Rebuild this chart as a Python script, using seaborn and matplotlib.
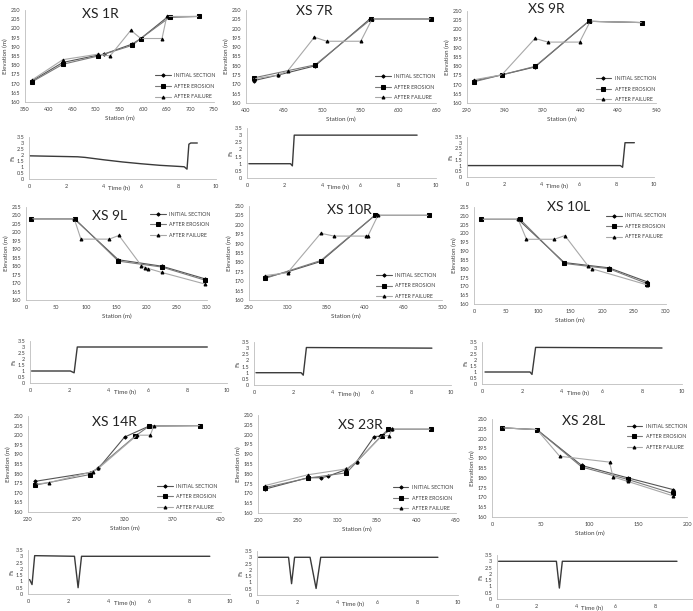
import matplotlib
matplotlib.use("Agg")
import matplotlib.pyplot as plt
from matplotlib.ticker import MultipleLocator, FormatStrFormatter
import seaborn as sns

# ---- cross sections: station (m) / elevation (m) ----
st_1r_init = [365, 430, 505, 517, 577, 595, 652, 718]
el_1r_init = [171.5, 181.5, 185.5, 186, 191.5, 194.5, 206.3, 206.5]
st_1r_eros = [365, 430, 505, 577, 595, 656, 718]
el_1r_eros = [171, 180.5, 185, 190.8, 194.5, 206, 206.5]
st_1r_fail = [365, 430, 505, 530, 574, 595, 640, 650, 718]
el_1r_fail = [172, 183, 186, 185, 199, 194.5, 194.5, 206.5, 206.5]

st_7r_init = [410, 442, 491, 563, 644]
el_7r_init = [172, 175, 180, 205.2, 205.2]
st_7r_eros = [410, 491, 565, 644]
el_7r_eros = [173.5, 180.5, 205.2, 205.2]
st_7r_fail = [410, 442, 455, 490, 506, 551, 566, 644]
el_7r_fail = [173, 175, 177.3, 195.4, 193.2, 193.2, 205.2, 205.2]

st_9r_init = [299, 336, 380, 451, 522]
el_9r_init = [172, 175.3, 179.6, 204.4, 203.7]
st_9r_eros = [299, 336, 380, 451, 522]
el_9r_eros = [171.5, 175.3, 179.9, 204.4, 203.7]
st_9r_fail = [299, 336, 380, 397, 439, 453, 522]
el_9r_fail = [172.6, 175.3, 195.1, 193.1, 193.1, 204.4, 203.7]

st_9l_init = [9, 80, 153, 225, 297]
el_9l_init = [208, 208, 183.8, 180, 172.5]
st_9l_eros = [9, 81, 153, 225, 297]
el_9l_eros = [208, 208, 183, 179.5, 171.7]
st_9l_fail = [9, 80, 91, 138, 154, 191, 198, 203, 225, 297]
el_9l_fail = [208, 208, 196, 196, 198.2, 180.4, 179.2, 178.6, 176.3, 169.4]

st_10r_init = [271, 300, 343, 413, 483]
el_10r_init = [172, 175, 180.5, 205, 205]
st_10r_eros = [271, 343, 413, 483]
el_10r_eros = [171.5, 181, 205, 205]
st_10r_fail = [271, 300, 343, 360, 402, 404, 417, 483]
el_10r_fail = [173, 174.5, 195.5, 194, 194, 194, 205, 205]

st_10l_init = [11.5, 69, 141, 211, 271]
el_10l_init = [208, 208, 183.5, 180.5, 172.5]
st_10l_eros = [11.5, 72, 141, 211, 271]
el_10l_eros = [208, 208, 183, 180, 171.5]
st_10l_fail = [11.5, 69, 82, 125.5, 142, 178.6, 184, 271]
el_10l_fail = [208, 208, 196.7, 196.7, 198.8, 181.4, 180, 170.8]

st_14r_init = [227.7, 284, 293, 320, 345.7, 398.5]
el_14r_init = [176, 180.5, 182.7, 199, 204.8, 205]
st_14r_eros = [227.7, 284, 331, 345.7, 398.5]
el_14r_eros = [174, 179.5, 199.5, 204.8, 205]
st_14r_fail = [227.7, 241.8, 287, 293, 333, 346.8, 350.3, 398.5]
el_14r_fail = [174.5, 175.3, 181, 182.7, 200, 200, 204.8, 205]

st_23r_init = [209, 263, 280, 288.5, 311.7, 324.4, 346.7, 354, 369, 418.4]
el_23r_init = [172.2, 178, 178, 178.8, 182.2, 186.1, 199, 199.2, 202.7, 202.7]
st_23r_eros = [209, 263, 311.7, 356, 364.4, 418.4]
el_23r_eros = [173, 177.8, 180.5, 199.5, 202.7, 202.7]
st_23r_fail = [209, 263, 311.7, 324.4, 356, 365.6, 369, 418.4]
el_23r_fail = [174, 179.5, 182.5, 186.1, 199.2, 199.5, 202.7, 202.7]

st_28l_init = [10, 46, 92, 139, 185.6]
el_28l_init = [205.5, 204.6, 186.3, 180, 174]
st_28l_eros = [10, 46, 92, 139, 185.6]
el_28l_eros = [205.5, 204.6, 185.5, 179.2, 172]
st_28l_fail = [10, 46, 69.4, 120.6, 124, 139, 185.6]
el_28l_fail = [205.5, 204.6, 191, 188, 180.5, 178.2, 170.8]

# ---- factor of safety vs time ----
t_1r = [0.05, 1, 2, 2.6, 3, 4, 5, 6, 7, 8, 8.3, 8.45, 8.55, 8.65, 9.0]
fs_1r = [1.93, 1.9, 1.87, 1.85, 1.8, 1.6, 1.42, 1.27, 1.14, 1.05, 1.02, 0.82, 2.9, 3.0, 3.0]
t_7r = [0.1, 2.3, 2.4, 2.5, 9.0]
fs_7r = [1.0, 1.0, 0.85, 3.0, 3.0]
t_9r = [0.05, 8.2, 8.32, 8.45, 8.95]
fs_9r = [1.0, 1.0, 0.85, 3.0, 3.0]
t_9l = [0.08, 2.05, 2.24, 2.4, 9.0]
fs_9l = [1.0, 1.0, 0.85, 3.0, 3.0]
t_10r = [0.1, 2.39, 2.5, 2.66, 9.03]
fs_10r = [1.0, 1.0, 0.8, 3.05, 3.0]
t_10l = [0.15, 2.4, 2.5, 2.68, 9.0]
fs_10l = [1.0, 1.0, 0.8, 3.05, 3.0]
t_14r = [0.08, 0.2, 0.33, 2.3, 2.48, 2.65, 9.0]
fs_14r = [1.15, 0.75, 3.05, 3.0, 0.5, 3.0, 3.0]
t_23r = [0.08, 1.57, 1.72, 1.87, 2.64, 2.94, 3.17, 9.0]
fs_23r = [3.0, 3.0, 0.9, 3.0, 3.0, 0.52, 3.0, 3.0]
t_28l = [0.08, 3.0, 3.15, 3.3, 9.09]
fs_28l = [3.0, 3.0, 0.87, 3.0, 3.0]

labels = ["INITIAL SECTION", "AFTER EROSION", "AFTER FAILURE"]
time_ticks = [0, 2, 4, 6, 8, 10]
time_ticks_cut = [0, 2, 4, 6, 8]

W, H = 693, 611


def px_axes(fig, x0, x1, y0, y1):
    return fig.add_axes([x0 / W, 1 - y1 / H, (x1 - x0) / W, (y1 - y0) / H])


def style(ax):
    sns.despine(ax=ax)
    for s in ["left", "bottom"]:
        ax.spines[s].set_color("#bdbdbd")
        ax.spines[s].set_linewidth(0.6)
    ax.tick_params(labelsize=4, colors="#404040", length=2, width=0.5, pad=1.5)
    ax.tick_params(color="#bdbdbd")


def draw_xs(ax, init, eros, fail, xlim, ylim, title, tpos, legpos):
    styles = [("#555555", "D", 1.7), ("#7a7a7a", "s", 2.3), ("#a8a8a8", "^", 2.1)]
    for (st, el), (c, m, ms), lab in zip([init, eros, fail], styles, labels):
        sns.lineplot(x=st, y=el, sort=False, estimator=None, color=c, marker=m,
                     markersize=ms, markerfacecolor="black", markeredgecolor="black",
                     linewidth=0.8, label=lab, ax=ax)
    ax.set_xlim(*xlim)
    ax.set_ylim(*ylim)
    ax.yaxis.set_major_locator(MultipleLocator(5))
    ax.set_xticks(range(xlim[0], xlim[1] + 1, 50))
    ax.set_xlabel("Station (m)", fontsize=4.5, color="#404040", labelpad=3)
    ax.set_ylabel("Elevation (m)", fontsize=4.5, color="#404040", labelpad=2)
    style(ax)
    ax.text(tpos[0], tpos[1], title, transform=ax.transAxes, ha="center", va="center",
            fontsize=10, color="#222222")
    leg = ax.legend(loc="center left", bbox_to_anchor=legpos, frameon=False, fontsize=3.8,
                    handlelength=3.0, handletextpad=0.6, labelspacing=1.05,
                    borderpad=0, borderaxespad=0)
    for txt in leg.get_texts():
        txt.set_color("#404040")


def draw_fs(ax, t, fs, ticks):
    sns.lineplot(x=t, y=fs, sort=False, estimator=None, color="#3a3a3a", linewidth=1.0, ax=ax)
    ax.set_xlim(0, 10)
    ax.set_ylim(0, 3.5)
    ax.set_xticks(ticks)
    ax.yaxis.set_major_locator(MultipleLocator(0.5))
    ax.yaxis.set_major_formatter(FormatStrFormatter("%g"))
    ax.set_ylabel("Fs", fontsize=4.5, color="#404040", labelpad=1)
    ax.set_xlabel("")
    style(ax)
    ax.annotate("Time (h)", xy=(0.48, 0), xycoords="axes fraction", xytext=(0, -6.5),
                textcoords="offset points", ha="center", va="center", fontsize=4.5,
                color="#404040")


sns.set_theme(style="white")
plt.rcParams["font.family"] = ["Lato", "DejaVu Sans"]

fig = plt.figure(figsize=(W / 100, H / 100), dpi=100)

panels = [
    ("XS 1R", (25, 214, 10, 102), (29, 216, 137, 179), (350, 750), (160, 210),
     (st_1r_init, el_1r_init), (st_1r_eros, el_1r_eros), (st_1r_fail, el_1r_fail),
     (t_1r, fs_1r, time_ticks), (0.40, 0.96), (0.69, 0.17)),
    ("XS 7R", (246, 436, 10, 103), (247, 436, 128, 178), (400, 650), (160, 210),
     (st_7r_init, el_7r_init), (st_7r_eros, el_7r_eros), (st_7r_fail, el_7r_fail),
     (t_7r, fs_7r, time_ticks), (0.36, 0.99), (0.68, 0.17)),
    ("XS 9R", (467, 656, 11, 103), (467, 654, 137, 177), (290, 540), (160, 210),
     (st_9r_init, el_9r_init), (st_9r_eros, el_9r_eros), (st_9r_fail, el_9r_fail),
     (t_9r, fs_9r, time_ticks), (0.42, 1.02), (0.68, 0.15)),
    ("XS 9L", (26, 207, 207, 300), (30, 227, 341, 383), (0, 300), (160, 215),
     (st_9l_init, el_9l_init), (st_9l_eros, el_9l_eros), (st_9l_fail, el_9l_fail),
     (t_9l, fs_9l, time_ticks), (0.46, 0.90), (0.685, 0.81)),
    ("XS 10R", (249, 442, 206, 300), (254, 451, 342, 385), (250, 500), (160, 210),
     (st_10r_init, el_10r_init), (st_10r_eros, el_10r_eros), (st_10r_fail, el_10r_fail),
     (t_10r, fs_10r, time_ticks), (0.52, 0.96), (0.66, 0.15)),
    ("XS 10L", (474, 666, 207, 304), (482, 682, 342, 384), (0, 300), (160, 215),
     (st_10l_init, el_10l_init), (st_10l_eros, el_10l_eros), (st_10l_fail, el_10l_fail),
     (t_10l, fs_10l, time_ticks), (0.49, 1.0), (0.69, 0.80)),
    ("XS 14R", (28, 221, 416, 512), (28, 230, 550, 594), (220, 420), (160, 210),
     (st_14r_init, el_14r_init), (st_14r_eros, el_14r_eros), (st_14r_fail, el_14r_fail),
     (t_14r, fs_14r, time_ticks), (0.45, 0.94), (0.67, 0.16)),
    ("XS 23R", (258, 456, 415, 513), (257, 458, 551, 595), (200, 450), (160, 210),
     (st_23r_init, el_23r_init), (st_23r_eros, el_23r_eros), (st_23r_fail, el_23r_fail),
     (t_23r, fs_23r, time_ticks), (0.515, 0.90), (0.68, 0.15)),
    ("XS 28L", (492, 687, 419, 517), (497, 695, 555, 599), (0, 200), (160, 210),
     (st_28l_init, el_28l_init), (st_28l_eros, el_28l_eros), (st_28l_fail, el_28l_fail),
     (t_28l, fs_28l, time_ticks_cut), (0.47, 0.98), (0.69, 0.82)),
]

for title, xs_box, fs_box, xlim, ylim, init, eros, fail, fsdat, tpos, legpos in panels:
    ax = px_axes(fig, *xs_box)
    draw_xs(ax, init, eros, fail, xlim, ylim, title, tpos, legpos)
    ax2 = px_axes(fig, *fs_box)
    draw_fs(ax2, *fsdat)

fig.savefig("out.png", dpi=100, facecolor="white")
